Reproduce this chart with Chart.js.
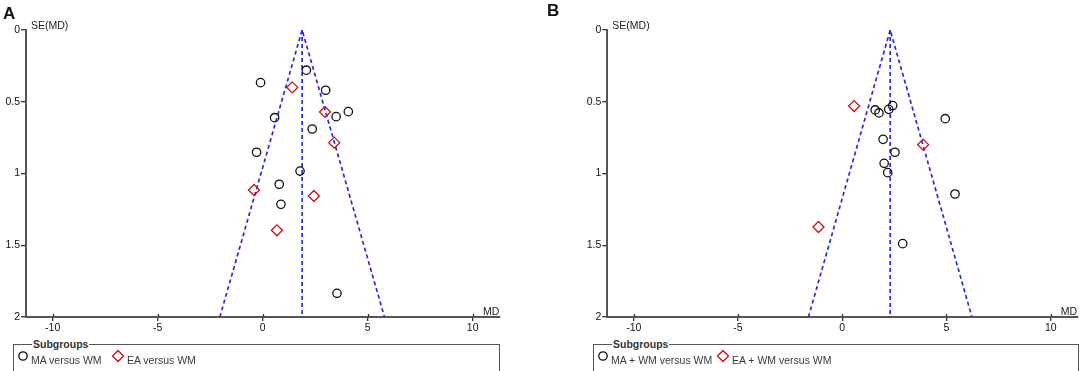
<!DOCTYPE html>
<html>
<head>
<meta charset="utf-8">
<script src="https://cdn.jsdelivr.net/npm/chart.js@4.4.0/dist/chart.umd.min.js"></script>
<style>
  body { margin: 0; background: #fff; font-family: Arial, "Liberation Sans", sans-serif; }
  #wrap { position: relative; width: 1084px; height: 371px; overflow: hidden; }
  .panel { position: absolute; top: 0; width: 542px; height: 371px; }
  .tag { position: absolute; font-weight: bold; font-size: 17px; color: #111; line-height: 1; }
  .box { position: absolute; top: 344px; height: 40px; border: 1.5px solid #555; box-sizing: border-box; }
  .box .title { position: absolute; top: -8px; background: #fff; padding: 0 1px; font-weight: bold; font-size: 10.5px; color: #333; line-height: 14px; }
  .box .item { position: absolute; top: 8px; font-size: 10.5px; color: #3a3a3a; line-height: 14px; white-space: nowrap; }
  .box svg { position: absolute; top: 5px; }
</style>
</head>
<body>
<div id="wrap">
  <div class="panel" style="left:0">
    <canvas id="chartA" width="542" height="371"></canvas>
  </div>
  <div class="panel" style="left:542px">
    <canvas id="chartB" width="542" height="371"></canvas>
  </div>

  <div class="tag" style="left:3px;top:5px">A</div>
  <div class="tag" style="left:547px;top:2px">B</div>

  <!-- legend A -->
  <div class="box" style="left:13px;width:487px">
    <span class="title" style="left:18px">Subgroups</span>
    <svg width="12" height="12" style="left:3px"><circle cx="6" cy="6" r="4.2" fill="none" stroke="#111" stroke-width="1.3"/></svg>
    <span class="item" style="left:17px">MA versus WM</span>
    <svg width="14" height="14" style="left:97px;top:4px"><polygon points="7,1.5 12.5,7 7,12.5 1.5,7" fill="none" stroke="#cc1111" stroke-width="1.3"/></svg>
    <span class="item" style="left:113px">EA versus WM</span>
  </div>

  <!-- legend B -->
  <div class="box" style="left:593px;width:486px">
    <span class="title" style="left:18px">Subgroups</span>
    <svg width="12" height="12" style="left:3px"><circle cx="6" cy="6" r="4.2" fill="none" stroke="#111" stroke-width="1.3"/></svg>
    <span class="item" style="left:17px">MA + WM versus WM</span>
    <svg width="14" height="14" style="left:122px;top:4px"><polygon points="7,1.5 12.5,7 7,12.5 1.5,7" fill="none" stroke="#cc1111" stroke-width="1.3"/></svg>
    <span class="item" style="left:138px">EA + WM versus WM</span>
  </div>
</div>

<script>
// ---------------- data ----------------
const xTicks = [-10, -5, 0, 5, 10];
const xTickLabels = ['-10', '-5', '0', '5', '10'];
const yTicks = [0, 0.5, 1, 1.5, 2];
const yTickLabels = ['0', '0.5', '1', '1.5', '2'];

// Panel A: MA versus WM (circles), EA versus WM (diamonds)
const maMdA = [-0.10, 2.08, 3.00, 3.50, 4.08, 0.57, 2.36, -0.29, 1.78, 0.79, 0.87, 3.54];
const maSeA = [0.367, 0.280, 0.420, 0.604, 0.569, 0.611, 0.690, 0.852, 0.983, 1.075, 1.215, 1.835];
const eaMdA = [1.41, 2.97, 3.41, -0.41, 2.44, 0.68];
const eaSeA = [0.400, 0.571, 0.785, 1.115, 1.157, 1.396];
// funnel: left bottom, apex, right bottom
const funnelMdA = [-2.04, 1.88, 5.80];
const funnelSe = [2, 0, 2];

// Panel B: MA + WM versus WM (circles), EA + WM versus WM (diamonds)
const maMdB = [1.58, 1.76, 2.23, 2.42, 4.94, 1.96, 2.53, 2.01, 2.18, 5.41, 2.90];
const maSeB = [0.557, 0.578, 0.553, 0.527, 0.618, 0.762, 0.852, 0.929, 0.994, 1.143, 1.489];
const eaMdB = [0.57, 3.88, -1.14];
const eaSeB = [0.530, 0.799, 1.373];
const funnelMdB = [-1.62, 2.30, 6.22];

const xMin = -11.27, xMax = 11.27;
const blue = '#2a2ae0';

// -------------- build chart config ------------------------
function toPoints(xs, ys) {
  return xs.map((x, i) => ({ x: x, y: ys[i] }));
}

// axis captions SE(MD) and MD, plus the little upward half of the x ticks
const axisText = {
  id: 'axisText',
  afterDraw(chart) {
    const ctx = chart.ctx;
    const a = chart.chartArea;
    const xs = chart.scales.x;
    ctx.save();
    ctx.strokeStyle = '#333';
    ctx.lineWidth = 1.3;
    xTicks.forEach(v => {
      const px = Math.round(xs.getPixelForValue(v)) + 0.5;
      ctx.beginPath();
      ctx.moveTo(px, a.bottom);
      ctx.lineTo(px, a.bottom - 3);
      ctx.stroke();
    });
    ctx.fillStyle = '#222';
    ctx.font = '10.5px Arial, "Liberation Sans", sans-serif';
    ctx.textBaseline = 'alphabetic';
    ctx.textAlign = 'left';
    ctx.fillText('SE(MD)', a.left + 5, a.top - 1);
    ctx.textAlign = 'right';
    ctx.fillText('MD', a.right, a.bottom - 2);
    ctx.restore();
  }
};

function makeChart(id, padLeft, padRight, maX, maY, eaX, eaY, funnelX) {
  const funnel = toPoints(funnelX, funnelSe);
  const lineStyle = {
    type: 'line', showLine: true, fill: false, tension: 0,
    borderColor: blue, borderWidth: 1.7, borderDash: [4, 3],
    pointRadius: 0, order: 2
  };
  return new Chart(document.getElementById(id), {
    type: 'scatter',
    data: {
      datasets: [
        { data: toPoints(maX, maY), pointStyle: 'circle', pointRadius: 4.2,
          pointBorderColor: '#111', pointBackgroundColor: 'rgba(0,0,0,0)',
          pointBorderWidth: 1.3, order: 0 },
        { data: toPoints(eaX, eaY), pointStyle: 'rectRot', pointRadius: 5.5,
          pointBorderColor: '#cc1111', pointBackgroundColor: 'rgba(0,0,0,0)',
          pointBorderWidth: 1.3, order: 0 },
        Object.assign({ data: [funnel[0], funnel[1], funnel[2]] }, lineStyle),
        Object.assign({ data: [{ x: funnelX[1], y: 0 }, { x: funnelX[1], y: 2 }] }, lineStyle)
      ]
    },
    options: {
      responsive: false,
      animation: false,
      layout: { padding: { left: padLeft, right: padRight, top: 30, bottom: 0 } },
      plugins: { legend: { display: false }, tooltip: { enabled: false } },
      scales: {
        x: {
          type: 'linear', min: xMin, max: xMax,
          afterBuildTicks: s => { s.ticks = xTicks.map(v => ({ value: v })); },
          afterFit: s => { s.height = 54; },
          ticks: {
            color: '#111', padding: 1, maxRotation: 0,
            font: { family: 'Arial, "Liberation Sans", sans-serif', size: 10.5 },
            callback: (v) => xTickLabels[xTicks.indexOf(v)]
          },
          grid: { drawOnChartArea: false, drawTicks: true, tickLength: 4, color: '#333', lineWidth: 1.3 },
          border: { color: '#555', width: 2 }
        },
        y: {
          type: 'linear', min: 0, max: 2, reverse: true,
          afterBuildTicks: s => { s.ticks = yTicks.map(v => ({ value: v })); },
          afterFit: s => { s.width = 26; },
          ticks: {
            color: '#111', padding: 1,
            font: { family: 'Arial, "Liberation Sans", sans-serif', size: 10.5 },
            callback: (v) => yTickLabels[yTicks.indexOf(v)]
          },
          grid: { drawOnChartArea: false, drawTicks: true, tickLength: 5, color: '#333', lineWidth: 1.3 },
          border: { color: '#555', width: 2 }
        }
      }
    },
    plugins: [axisText]
  });
}

makeChart('chartA', 0, 42.7, maMdA, maSeA, eaMdA, eaSeA, funnelMdA);
makeChart('chartB', 39.3, 4, maMdB, maSeB, eaMdB, eaSeB, funnelMdB);
</script>
</body>
</html>
